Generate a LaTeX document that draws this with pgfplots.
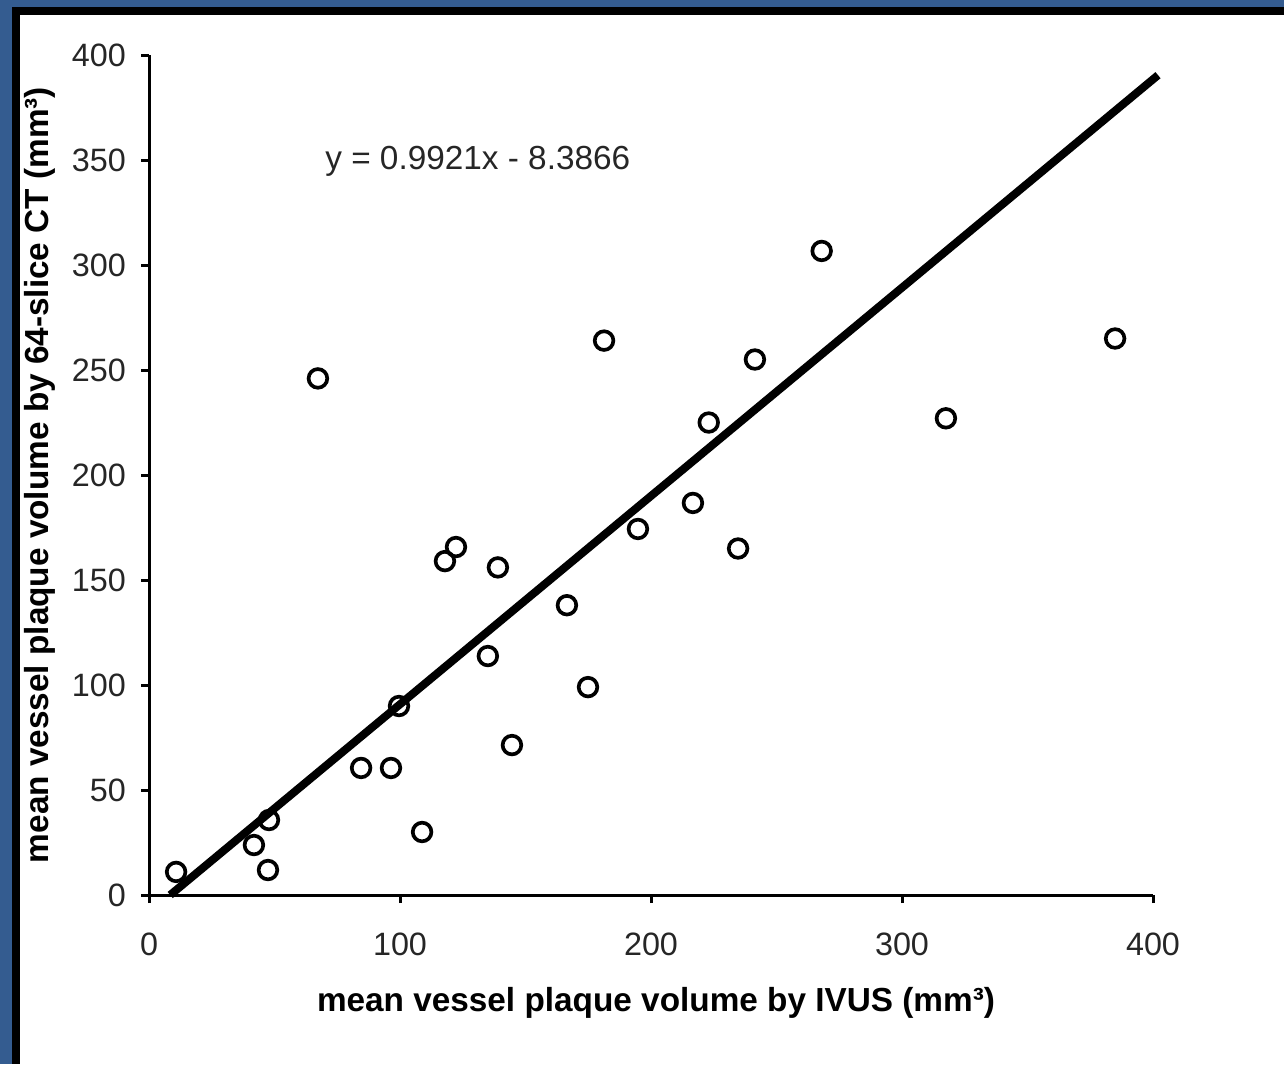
\documentclass[border=0pt]{standalone}
\usepackage{pgfplots}
\pgfplotsset{compat=1.18}
\usepackage{fontspec}
\setmainfont{Liberation Sans}
\definecolor{slideblue}{RGB}{52,92,144}
\begin{document}
\begin{tikzpicture}[x=1pt,y=1pt]
% slide background (1 px = 0.3 pt)
\fill[slideblue] (0,0) rectangle (385.2,319.2);
\fill[black] (3.6,0) rectangle (385.2,317.1);
\fill[white] (6,0) rectangle (385.2,314.7);
\begin{axis}[
  at={(44.7pt,50.7pt)}, anchor=origin,
  scale only axis, width=301.2pt, height=252pt,
  xmin=0, xmax=400, ymin=0, ymax=400,
  axis x line=bottom, axis y line=left,
  axis line style={-, line width=0.9pt},
  every tick/.style={black, line width=0.9pt},
  tick align=outside, major tick length=2.4pt,
  xtick={0,100,...,400}, ytick={0,50,...,400},
  /pgf/number format/assume math mode=true,
  tick label style={font=\fontsize{9.7}{11}\selectfont, text=black!85},
  xticklabel style={yshift=-5.5pt},
  yticklabel style={xshift=-1pt},
  xlabel={\textbf{mean vessel plaque volume by IVUS (mm³)}},
  ylabel={\textbf{mean vessel plaque volume by 64-slice CT (mm³)}},
  label style={font=\fontsize{10}{12}\selectfont},
  xlabel style={at={(axis description cs:0.505,0)}, anchor=center, yshift=-32.5pt},
  ylabel style={at={(axis description cs:0,0.5)}, anchor=center, xshift=0pt, yshift=32.7pt},
  clip=false,
]
\addplot[black, line width=2.4pt] coordinates {(8.45,0) (402,390.4)};
\addplot[only marks, mark=o, mark size=2.8pt, mark options={line width=1.1pt, black}] coordinates {
(10.8,11) (41.8,23.8) (47.8,35.7) (47.4,11.9) (67.3,246) (84.5,60.5) (96.4,60.5)
(99.6,90) (108.8,30) (117.9,159) (122.3,165.7) (135,113.8) (139,156) (144.6,71.4)
(166.5,138) (174.9,99) (181.3,264) (194.8,174.3) (216.7,186.7) (223,225) (234.7,165)
(241.4,255) (268,306.7) (317.5,227) (384.9,265)
};
\node[anchor=west, inner sep=0pt, font=\fontsize{10}{12}\selectfont, text=black!85] at (axis cs:70,349.5) {y = 0.9921x - 8.3866};
\end{axis}
\end{tikzpicture}
\end{document}
